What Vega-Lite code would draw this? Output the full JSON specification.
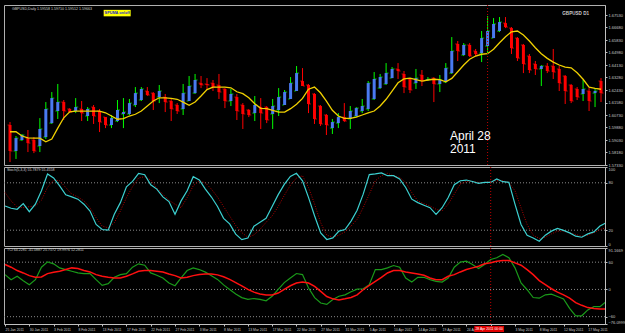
{
  "$schema": "https://vega.github.io/schema/vega-lite/v6.json",
  "background": "#000000",
  "padding": {"left": 3, "top": 4, "right": 0, "bottom": 0},
  "bounds": "flush",
  "spacing": 2,
  "config": {
    "view": {"stroke": "#b0b0b0", "strokeWidth": 1},
    "axis": {"labelColor": "#c8c8c8", "labelFont": "Liberation Sans", "labelFontSize": 4, "domainColor": "#c0c0c0", "tickColor": "#c0c0c0", "grid": false, "tickSize": 2, "labelPadding": 1, "labelOverlap": false, "labelBound": false, "tickCount": 100}
  },
  "datasets": {
    "bars": [
      {"i":0,"d":"2011-01-25","o":1.6005,"h":1.6025,"l":1.5753,"c":1.5828,"ma":1.5959,"k":50.7,"s":67.7,"w1":32.6,"w2":54.8},
      {"i":1,"d":"2011-01-26","o":1.5828,"h":1.5930,"l":1.5774,"c":1.5916,"ma":1.5959,"k":47.8,"s":57.1,"w1":21.5,"w2":48.9},
      {"i":2,"d":"2011-01-27","o":1.5903,"h":1.5944,"l":1.5896,"c":1.5937,"ma":1.5930,"k":46.5,"s":49.4,"w1":28.9,"w2":41.5},
      {"i":3,"d":"2011-01-28","o":1.5916,"h":1.5971,"l":1.5821,"c":1.5882,"ma":1.5918,"k":53.6,"s":48.5,"w1":19.3,"w2":36.3},
      {"i":4,"d":"2011-01-30","o":1.5903,"h":1.5923,"l":1.5814,"c":1.5828,"ma":1.5916,"k":43.4,"s":49.8,"w1":10.4,"w2":30.4},
      {"i":5,"d":"2011-01-31","o":1.5862,"h":1.6052,"l":1.5821,"c":1.5978,"ma":1.5916,"k":52.9,"s":50.7,"w1":21.5,"w2":26.7},
      {"i":6,"d":"2011-02-01","o":1.5923,"h":1.6161,"l":1.5910,"c":1.6114,"ma":1.5891,"k":69.9,"s":58.0,"w1":48.9,"w2":27.4},
      {"i":7,"d":"2011-02-02","o":1.6018,"h":1.6229,"l":1.6012,"c":1.6188,"ma":1.5910,"k":91.2,"s":74.1,"w1":60.7,"w2":34.8},
      {"i":8,"d":"2011-02-03","o":1.6100,"h":1.6284,"l":1.6046,"c":1.6161,"ma":1.5984,"k":86.1,"s":83.5,"w1":56.3,"w2":37.8},
      {"i":9,"d":"2011-02-04","o":1.6161,"h":1.6175,"l":1.6039,"c":1.6100,"ma":1.6054,"k":76.2,"s":82.6,"w1":47.4,"w2":40.0},
      {"i":10,"d":"2011-02-06","o":1.6114,"h":1.6120,"l":1.6086,"c":1.6093,"ma":1.6095,"k":64.8,"s":74.1,"w1":43.7,"w2":43.7},
      {"i":11,"d":"2011-02-07","o":1.6100,"h":1.6188,"l":1.6086,"c":1.6127,"ma":1.6100,"k":62.2,"s":65.6,"w1":40.0,"w2":47.4},
      {"i":12,"d":"2011-02-08","o":1.6114,"h":1.6168,"l":1.6032,"c":1.6086,"ma":1.6100,"k":59.3,"s":62.2,"w1":36.3,"w2":45.9},
      {"i":13,"d":"2011-02-09","o":1.6066,"h":1.6127,"l":1.6032,"c":1.6114,"ma":1.6100,"k":52.9,"s":57.1,"w1":34.8,"w2":41.5},
      {"i":14,"d":"2011-02-10","o":1.6127,"h":1.6141,"l":1.6012,"c":1.6066,"ma":1.6100,"k":44.3,"s":48.5,"w1":34.8,"w2":38.5},
      {"i":15,"d":"2011-02-11","o":1.6100,"h":1.6114,"l":1.5957,"c":1.6025,"ma":1.6100,"k":27.3,"s":35.8,"w1":21.5,"w2":32.6},
      {"i":16,"d":"2011-02-13","o":1.6059,"h":1.6059,"l":1.5984,"c":1.6005,"ma":1.6088,"k":20.9,"s":25.2,"w1":8.9,"w2":28.9},
      {"i":17,"d":"2011-02-14","o":1.6005,"h":1.6073,"l":1.5984,"c":1.6052,"ma":1.6066,"k":20.0,"s":23.0,"w1":12.6,"w2":26.7},
      {"i":18,"d":"2011-02-15","o":1.6032,"h":1.6175,"l":1.6025,"c":1.6107,"ma":1.6044,"k":40.1,"s":29.4,"w1":26.7,"w2":25.2},
      {"i":19,"d":"2011-02-16","o":1.6080,"h":1.6188,"l":1.5984,"c":1.6093,"ma":1.6048,"k":54.9,"s":44.3,"w1":32.6,"w2":25.2},
      {"i":20,"d":"2011-02-17","o":1.6080,"h":1.6182,"l":1.6073,"c":1.6154,"ma":1.6066,"k":75.0,"s":61.3,"w1":34.8,"w2":28.9},
      {"i":21,"d":"2011-02-18","o":1.6141,"h":1.6263,"l":1.6127,"c":1.6222,"ma":1.6078,"k":81.7,"s":75.0,"w1":48.9,"w2":34.1},
      {"i":22,"d":"2011-02-20","o":1.6175,"h":1.6263,"l":1.6168,"c":1.6250,"ma":1.6100,"k":92.0,"s":86.1,"w1":56.3,"w2":40.0},
      {"i":23,"d":"2011-02-21","o":1.6236,"h":1.6263,"l":1.6202,"c":1.6209,"ma":1.6134,"k":90.3,"s":87.7,"w1":53.3,"w2":41.5},
      {"i":24,"d":"2011-02-22","o":1.6222,"h":1.6229,"l":1.6107,"c":1.6168,"ma":1.6168,"k":77.5,"s":83.5,"w1":36.3,"w2":41.5},
      {"i":25,"d":"2011-02-23","o":1.6195,"h":1.6277,"l":1.6154,"c":1.6236,"ma":1.6190,"k":72.0,"s":73.3,"w1":31.1,"w2":40.0},
      {"i":26,"d":"2011-02-24","o":1.6195,"h":1.6216,"l":1.6093,"c":1.6161,"ma":1.6190,"k":62.2,"s":65.6,"w1":25.2,"w2":38.5},
      {"i":27,"d":"2011-02-25","o":1.6168,"h":1.6182,"l":1.6032,"c":1.6114,"ma":1.6186,"k":56.2,"s":58.0,"w1":14.1,"w2":34.1},
      {"i":28,"d":"2011-02-27","o":1.6141,"h":1.6154,"l":1.6080,"c":1.6100,"ma":1.6180,"k":40.1,"s":52.9,"w1":8.1,"w2":30.4},
      {"i":29,"d":"2011-02-28","o":1.6114,"h":1.6284,"l":1.6073,"c":1.6222,"ma":1.6161,"k":57.1,"s":48.5,"w1":25.2,"w2":25.2},
      {"i":30,"d":"2011-03-01","o":1.6168,"h":1.6338,"l":1.6168,"c":1.6270,"ma":1.6139,"k":69.9,"s":61.3,"w1":41.5,"w2":26.7},
      {"i":31,"d":"2011-03-02","o":1.6222,"h":1.6352,"l":1.6216,"c":1.6311,"ma":1.6161,"k":87.7,"s":76.2,"w1":47.4,"w2":30.4},
      {"i":32,"d":"2011-03-03","o":1.6290,"h":1.6338,"l":1.6256,"c":1.6277,"ma":1.6202,"k":83.5,"s":82.6,"w1":43.7,"w2":32.6},
      {"i":33,"d":"2011-03-04","o":1.6284,"h":1.6324,"l":1.6243,"c":1.6277,"ma":1.6246,"k":72,"s":80,"w1":38,"w2":34},
      {"i":34,"d":"2011-03-06","o":1.6290,"h":1.6311,"l":1.6236,"c":1.6263,"ma":1.6263,"k":62,"s":72,"w1":30,"w2":34},
      {"i":35,"d":"2011-03-07","o":1.6277,"h":1.6352,"l":1.6182,"c":1.6229,"ma":1.6263,"k":50,"s":62,"w1":22,"w2":32},
      {"i":36,"d":"2011-03-08","o":1.6250,"h":1.6256,"l":1.6120,"c":1.6168,"ma":1.6263,"k":35,"s":50,"w1":10,"w2":28},
      {"i":37,"d":"2011-03-09","o":1.6168,"h":1.6250,"l":1.6134,"c":1.6216,"ma":1.6258,"k":28,"s":38,"w1":0,"w2":22},
      {"i":38,"d":"2011-03-10","o":1.6195,"h":1.6216,"l":1.6039,"c":1.6100,"ma":1.6231,"k":15,"s":26,"w1":-10,"w2":15},
      {"i":39,"d":"2011-03-11","o":1.6141,"h":1.6154,"l":1.5978,"c":1.6080,"ma":1.6218,"k":8,"s":17,"w1":-18,"w2":8},
      {"i":40,"d":"2011-03-13","o":1.6107,"h":1.6114,"l":1.6059,"c":1.6073,"ma":1.6190,"k":10,"s":11,"w1":-22,"w2":0},
      {"i":41,"d":"2011-03-14","o":1.6086,"h":1.6202,"l":1.6032,"c":1.6141,"ma":1.6150,"k":25,"s":14,"w1":-20,"w2":-6},
      {"i":42,"d":"2011-03-15","o":1.6127,"h":1.6188,"l":1.5978,"c":1.6086,"ma":1.6118,"k":30,"s":21,"w1":-22,"w2":-10},
      {"i":43,"d":"2011-03-16","o":1.6127,"h":1.6134,"l":1.6018,"c":1.6039,"ma":1.6116,"k":35,"s":30,"w1":-25,"w2":-12},
      {"i":44,"d":"2011-03-17","o":1.6080,"h":1.6182,"l":1.5978,"c":1.6134,"ma":1.6105,"k":50,"s":38,"w1":-15,"w2":-12},
      {"i":45,"d":"2011-03-18","o":1.6107,"h":1.6256,"l":1.6066,"c":1.6195,"ma":1.6093,"k":65,"s":50,"w1":0,"w2":-8},
      {"i":46,"d":"2011-03-20","o":1.6141,"h":1.6243,"l":1.6141,"c":1.6229,"ma":1.6093,"k":78,"s":64,"w1":15,"w2":0},
      {"i":47,"d":"2011-03-21","o":1.6182,"h":1.6331,"l":1.6182,"c":1.6290,"ma":1.6116,"k":88,"s":77,"w1":25,"w2":8},
      {"i":48,"d":"2011-03-22","o":1.6236,"h":1.6406,"l":1.6236,"c":1.6358,"ma":1.6146,"k":92,"s":86,"w1":35,"w2":14},
      {"i":49,"d":"2011-03-23","o":1.6304,"h":1.6392,"l":1.6270,"c":1.6270,"ma":1.6186,"k":82.6,"s":89.0,"w1":32.6,"w2":16.3},
      {"i":50,"d":"2011-03-24","o":1.6277,"h":1.6284,"l":1.6086,"c":1.6148,"ma":1.6248,"k":61.3,"s":74.1,"w1":3,"w2":14},
      {"i":51,"d":"2011-03-25","o":1.6216,"h":1.6222,"l":1.6012,"c":1.6046,"ma":1.6263,"k":37.9,"s":52.9,"w1":-18,"w2":6.7},
      {"i":52,"d":"2011-03-27","o":1.6134,"h":1.6141,"l":1.5998,"c":1.6012,"ma":1.6224,"k":16.6,"s":29.4,"w1":-30,"w2":-4.4},
      {"i":53,"d":"2011-03-28","o":1.6073,"h":1.6080,"l":1.5937,"c":1.6005,"ma":1.6168,"k":8.2,"s":13.7,"w1":-33,"w2":-15.6},
      {"i":54,"d":"2011-03-29","o":1.5984,"h":1.6046,"l":1.5944,"c":1.6025,"ma":1.6105,"k":10.2,"s":11.1,"w1":-22,"w2":-20.7},
      {"i":55,"d":"2011-03-30","o":1.6018,"h":1.6086,"l":1.5984,"c":1.6059,"ma":1.6066,"k":18.8,"s":13.7,"w1":-15,"w2":-23},
      {"i":56,"d":"2011-03-31","o":1.6059,"h":1.6154,"l":1.6025,"c":1.6032,"ma":1.6050,"k":20.9,"s":17.9,"w1":-11.9,"w2":-20.7},
      {"i":57,"d":"2011-04-01","o":1.6046,"h":1.6134,"l":1.5978,"c":1.6100,"ma":1.6050,"k":31.5,"s":25.2,"w1":-5,"w2":-17.8},
      {"i":58,"d":"2011-04-03","o":1.6066,"h":1.6127,"l":1.6059,"c":1.6120,"ma":1.6059,"k":45.2,"s":33.7,"w1":0.7,"w2":-11.9},
      {"i":59,"d":"2011-04-04","o":1.6100,"h":1.6182,"l":1.6086,"c":1.6134,"ma":1.6073,"k":65.6,"s":48.5,"w1":1.5,"w2":-0.7},
      {"i":60,"d":"2011-04-05","o":1.6114,"h":1.6304,"l":1.6100,"c":1.6290,"ma":1.6088,"k":90.3,"s":65.6,"w1":10.4,"w2":8.9},
      {"i":61,"d":"2011-04-06","o":1.6182,"h":1.6365,"l":1.6175,"c":1.6318,"ma":1.6100,"k":91.2,"s":82.6,"w1":43.7,"w2":17.8},
      {"i":62,"d":"2011-04-07","o":1.6256,"h":1.6352,"l":1.6250,"c":1.6331,"ma":1.6134,"k":92.5,"s":89.0,"w1":43.7,"w2":26.7},
      {"i":63,"d":"2011-04-08","o":1.6284,"h":1.6426,"l":1.6277,"c":1.6358,"ma":1.6180,"k":89.0,"s":92.0,"w1":47.4,"w2":36.3},
      {"i":64,"d":"2011-04-10","o":1.6324,"h":1.6399,"l":1.6324,"c":1.6386,"ma":1.6236,"k":89.0,"s":89.0,"w1":52.6,"w2":41.5},
      {"i":65,"d":"2011-04-11","o":1.6386,"h":1.6426,"l":1.6318,"c":1.6372,"ma":1.6292,"k":84.8,"s":86.8,"w1":48.9,"w2":41.5},
      {"i":66,"d":"2011-04-12","o":1.6352,"h":1.6372,"l":1.6222,"c":1.6263,"ma":1.6318,"k":74.1,"s":80.5,"w1":25.2,"w2":38.5},
      {"i":67,"d":"2011-04-13","o":1.6318,"h":1.6324,"l":1.6222,"c":1.6243,"ma":1.6324,"k":59.3,"s":67.7,"w1":16.3,"w2":36.3},
      {"i":68,"d":"2011-04-14","o":1.6290,"h":1.6386,"l":1.6250,"c":1.6324,"ma":1.6313,"k":54.9,"s":57.1,"w1":26.7,"w2":34.1},
      {"i":69,"d":"2011-04-15","o":1.6345,"h":1.6379,"l":1.6270,"c":1.6304,"ma":1.6304,"k":51.6,"s":53.6,"w1":26.7,"w2":31.1},
      {"i":70,"d":"2011-04-17","o":1.6311,"h":1.6331,"l":1.6304,"c":1.6318,"ma":1.6311,"k":48.5,"s":50.7,"w1":21.5,"w2":25.2},
      {"i":71,"d":"2011-04-18","o":1.6324,"h":1.6331,"l":1.6161,"c":1.6284,"ma":1.6316,"k":40.1,"s":46.5,"w1":17.8,"w2":21.5},
      {"i":72,"d":"2011-04-19","o":1.6284,"h":1.6345,"l":1.6229,"c":1.6311,"ma":1.6313,"k":48.5,"s":44.3,"w1":16.3,"w2":21.5},
      {"i":73,"d":"2011-04-20","o":1.6297,"h":1.6426,"l":1.6290,"c":1.6392,"ma":1.6299,"k":61.3,"s":52.9,"w1":25.2,"w2":28.9},
      {"i":74,"d":"2011-04-21","o":1.6358,"h":1.6603,"l":1.6352,"c":1.6508,"ma":1.6322,"k":77.5,"s":65.6,"w1":48.9,"w2":32.6},
      {"i":75,"d":"2011-04-22","o":1.6556,"h":1.6576,"l":1.6440,"c":1.6508,"ma":1.6367,"k":82.6,"s":78.4,"w1":60,"w2":38.5},
      {"i":76,"d":"2011-04-24","o":1.6481,"h":1.6562,"l":1.6474,"c":1.6549,"ma":1.6413,"k":83.5,"s":81.7,"w1":62.2,"w2":43.7},
      {"i":77,"d":"2011-04-25","o":1.6549,"h":1.6562,"l":1.6467,"c":1.6474,"ma":1.6452,"k":81.7,"s":81.7,"w1":54.8,"w2":47.4},
      {"i":78,"d":"2011-04-26","o":1.6508,"h":1.6522,"l":1.6474,"c":1.6488,"ma":1.6474,"k":79.2,"s":80.5,"w1":45.9,"w2":51.1},
      {"i":79,"d":"2011-04-27","o":1.6494,"h":1.6644,"l":1.6433,"c":1.6596,"ma":1.6486,"k":80.5,"s":80.5,"w1":54.8,"w2":56.3},
      {"i":80,"d":"2011-04-28","o":1.6542,"h":1.6746,"l":1.6494,"c":1.6644,"ma":1.6490,"k":80.5,"s":81.7,"w1":65.9,"w2":58.5},
      {"i":81,"d":"2011-04-29","o":1.6596,"h":1.6732,"l":1.6596,"c":1.6692,"ma":1.6520,"k":84.8,"s":82.6,"w1":69.6,"w2":62.2},
      {"i":82,"d":"2011-05-01","o":1.6644,"h":1.6739,"l":1.6637,"c":1.6705,"ma":1.6564,"k":81.4,"s":82.6,"w1":77,"w2":63.7},
      {"i":83,"d":"2011-05-02","o":1.6698,"h":1.6739,"l":1.6664,"c":1.6671,"ma":1.6605,"k":80.5,"s":80.5,"w1":69.6,"w2":63.7},
      {"i":84,"d":"2011-05-03","o":1.6664,"h":1.6671,"l":1.6488,"c":1.6528,"ma":1.6639,"k":52.9,"s":69.9,"w1":47.4,"w2":58.5},
      {"i":85,"d":"2011-05-04","o":1.6596,"h":1.6603,"l":1.6440,"c":1.6460,"ma":1.6644,"k":27.3,"s":48.5,"w1":14.1,"w2":53.3},
      {"i":86,"d":"2011-05-05","o":1.6549,"h":1.6556,"l":1.6358,"c":1.6420,"ma":1.6617,"k":13.7,"s":27.3,"w1":-0.7,"w2":43.7},
      {"i":87,"d":"2011-05-06","o":1.6474,"h":1.6488,"l":1.6358,"c":1.6379,"ma":1.6576,"k":10.2,"s":13.7,"w1":-17.8,"w2":32.6},
      {"i":88,"d":"2011-05-08","o":1.6420,"h":1.6440,"l":1.6345,"c":1.6386,"ma":1.6530,"k":6.0,"s":9.5,"w1":-19.3,"w2":19.3},
      {"i":89,"d":"2011-05-09","o":1.6386,"h":1.6413,"l":1.6270,"c":1.6406,"ma":1.6490,"k":13.7,"s":11.1,"w1":-11.9,"w2":10.4},
      {"i":90,"d":"2011-05-10","o":1.6406,"h":1.6426,"l":1.6358,"c":1.6372,"ma":1.6458,"k":18.8,"s":15.3,"w1":-10.4,"w2":1.5},
      {"i":91,"d":"2011-05-11","o":1.6406,"h":1.6522,"l":1.6318,"c":1.6365,"ma":1.6433,"k":22.2,"s":18.8,"w1":-15.6,"w2":-6},
      {"i":92,"d":"2011-05-12","o":1.6386,"h":1.6406,"l":1.6236,"c":1.6290,"ma":1.6413,"k":19.7,"s":18.8,"w1":-21,"w2":-11.9},
      {"i":93,"d":"2011-05-13","o":1.6338,"h":1.6345,"l":1.6148,"c":1.6236,"ma":1.6399,"k":16.6,"s":16.6,"w1":-41.5,"w2":-19},
      {"i":94,"d":"2011-05-15","o":1.6277,"h":1.6284,"l":1.6154,"c":1.6168,"ma":1.6394,"k":12.4,"s":14.6,"w1":-58,"w2":-29},
      {"i":95,"d":"2011-05-16","o":1.6250,"h":1.6263,"l":1.6175,"c":1.6195,"ma":1.6360,"k":11.1,"s":12.4,"w1":-58,"w2":-35},
      {"i":96,"d":"2011-05-17","o":1.6216,"h":1.6311,"l":1.6168,"c":1.6250,"ma":1.6316,"k":15.3,"s":13.7,"w1":-45,"w2":-40},
      {"i":97,"d":"2011-05-18","o":1.6236,"h":1.6256,"l":1.6100,"c":1.6168,"ma":1.6263,"k":17.9,"s":16.6,"w1":-38,"w2":-42},
      {"i":98,"d":"2011-05-19","o":1.6222,"h":1.6256,"l":1.6127,"c":1.6236,"ma":1.6254,"k":25.2,"s":20.9,"w1":-37.8,"w2":-43},
      {"i":99,"d":"2011-05-20","o":1.6304,"h":1.6324,"l":1.6161,"c":1.6222,"ma":1.6248,"k":29.4,"s":23.0,"w1":-26.7,"w2":-43}
    ],
    "one": [{}]
  },
  "vconcat": [
    {
      "width": 601,
      "height": 160,
      "layer": [
        {
          "data": {"name": "bars"},
          "mark": {"type": "rule", "clip": true, "strokeWidth": 1},
          "encoding": {
            "x": {"field": "i", "type": "quantitative", "scale": {"domain": [-0.17, 98.83], "nice": false, "zero": false}, "axis": null},
            "y": {"field": "l", "type": "quantitative", "scale": {"domain": [1.5733, 1.6821], "nice": false, "zero": false},
              "axis": {"orient": "right", "title": null, "labelOverlap": false, "tickCount": 100, "values": [1.6753, 1.6668, 1.6583, 1.6498, 1.6413, 1.6328, 1.6243, 1.6158, 1.6073, 1.5988, 1.5903, 1.5818, 1.5733], "format": ".5f"}},
            "y2": {"field": "h"},
            "color": {"condition": {"test": "datum.c >= datum.o", "value": "#00ff00"}, "value": "#ff0000"}
          }
        },
        {
          "data": {"name": "bars"},
          "mark": {"type": "tick", "orient": "horizontal", "clip": true, "size": 2, "thickness": 1, "xOffset": -1.5},
          "encoding": {
            "x": {"field": "i", "type": "quantitative"},
            "y": {"field": "o", "type": "quantitative"},
            "color": {"condition": {"test": "datum.c >= datum.o", "value": "#00ff00"}, "value": "#ff0000"}
          }
        },
        {
          "data": {"name": "bars"},
          "mark": {"type": "tick", "orient": "horizontal", "clip": true, "size": 2, "thickness": 1, "xOffset": 1.5},
          "encoding": {
            "x": {"field": "i", "type": "quantitative"},
            "y": {"field": "c", "type": "quantitative"},
            "color": {"condition": {"test": "datum.c >= datum.o", "value": "#00ff00"}, "value": "#ff0000"}
          }
        },
        {
          "data": {"name": "bars"},
          "mark": {"type": "bar", "clip": true, "size": 3},
          "encoding": {
            "x": {"field": "i", "type": "quantitative"},
            "y": {"field": "o", "type": "quantitative"},
            "y2": {"field": "c"},
            "color": {"condition": {"test": "datum.c >= datum.o", "value": "#4a7af0"}, "value": "#ff0000"}
          }
        },
        {
          "data": {"name": "bars"},
          "mark": {"type": "line", "clip": true, "color": "#f0d000", "strokeWidth": 1.3},
          "encoding": {"x": {"field": "i", "type": "quantitative"}, "y": {"field": "ma", "type": "quantitative"}}
        },
        {
          "data": {"name": "one"},
          "mark": {"type": "rule", "color": "#c00000", "strokeDash": [1, 2], "strokeWidth": 1},
          "encoding": {"x": {"datum": 80}}
        },
        {
          "data": {"name": "one"},
          "mark": {"type": "text", "align": "left", "baseline": "middle", "color": "#d0d0d0", "font": "Liberation Sans", "fontSize": 3.6},
          "encoding": {"x": {"datum": 0.32}, "y": {"datum": 1.6794}, "text": {"value": "GBPUSD,Daily  1.59558 1.59710 1.59512 1.59663"}}
        },
        {
          "data": {"name": "one"},
          "mark": {"type": "point", "shape": "M-1,-0.24H1V0.24H-1Z", "filled": true, "opacity": 1, "fill": "#ffff00", "stroke": null, "size": 729},
          "encoding": {"x": {"datum": 17.95}, "y": {"datum": 1.6766}}
        },
        {
          "data": {"name": "one"},
          "mark": {"type": "text", "align": "center", "baseline": "middle", "color": "#2020d0", "font": "Liberation Sans", "fontSize": 3.8, "fontWeight": "bold"},
          "encoding": {"x": {"datum": 17.95}, "y": {"datum": 1.6766}, "text": {"value": "SPUMA on/off"}}
        },
        {
          "data": {"name": "one"},
          "mark": {"type": "text", "align": "right", "baseline": "middle", "color": "#c8c8c8", "font": "Liberation Sans", "fontSize": 4.6, "fontWeight": "bold"},
          "encoding": {"x": {"datum": 97.0}, "y": {"datum": 1.6760}, "text": {"value": "GBPUSD D1"}}
        },
        {
          "data": {"name": "one"},
          "mark": {"type": "text", "align": "left", "baseline": "middle", "color": "#ffffff", "font": "Liberation Sans", "fontSize": 12, "lineBreak": "\n", "lineHeight": 13},
          "encoding": {"x": {"datum": 73.7}, "y": {"datum": 1.5930}, "text": {"value": "April 28\n2011"}}
        }
      ]
    },
    {
      "width": 601,
      "height": 79,
      "layer": [
        {
          "data": {"name": "one"},
          "mark": {"type": "rule", "color": "#8a8a8a", "strokeDash": [1, 2]},
          "encoding": {"y": {"datum": 80, "type": "quantitative", "scale": {"domain": [0, 100], "nice": false}, "axis": {"orient": "right", "title": null, "labelOverlap": false, "tickCount": 100, "labelFlush": true, "values": [100, 80, 20, 0]}}}
        },
        {
          "data": {"name": "one"},
          "mark": {"type": "rule", "color": "#8a8a8a", "strokeDash": [1, 2]},
          "encoding": {"y": {"datum": 20}}
        },
        {
          "data": {"name": "bars"},
          "mark": {"type": "line", "clip": true, "color": "#b00000", "strokeWidth": 1, "strokeDash": [1, 1.5]},
          "encoding": {
            "x": {"field": "i", "type": "quantitative", "scale": {"domain": [-0.17, 98.83], "nice": false, "zero": false}, "axis": null},
            "y": {"field": "s", "type": "quantitative"}
          }
        },
        {
          "data": {"name": "bars"},
          "mark": {"type": "line", "clip": true, "color": "#3cd0d0", "strokeWidth": 1.2},
          "encoding": {"x": {"field": "i", "type": "quantitative"}, "y": {"field": "k", "type": "quantitative"}}
        },
        {
          "data": {"name": "one"},
          "mark": {"type": "rule", "color": "#c00000", "strokeDash": [1, 2], "strokeWidth": 1},
          "encoding": {"x": {"datum": 80}}
        },
        {
          "data": {"name": "one"},
          "mark": {"type": "text", "align": "left", "baseline": "middle", "color": "#d0d0d0", "font": "Liberation Sans", "fontSize": 3.6},
          "encoding": {"x": {"datum": 0.32}, "y": {"datum": 95.6}, "text": {"value": "Stoch(5,3,3) 55.7879 55.4558"}}
        }
      ]
    },
    {
      "width": 601,
      "height": 76,
      "layer": [
        {
          "data": {"name": "one"},
          "mark": {"type": "rule", "color": "#8a8a8a", "strokeDash": [1, 2]},
          "encoding": {"y": {"datum": 60, "type": "quantitative", "scale": {"domain": [-76.0999, 91.1669], "nice": false, "zero": false}, "axis": {"orient": "right", "title": null, "labelOverlap": false, "tickCount": 100, "labelFlush": true, "values": [91.1669, 60, 0, -60, -76.0999], "format": ".4~f"}}}
        },
        {
          "data": {"name": "one"},
          "mark": {"type": "rule", "color": "#8a8a8a", "strokeDash": [1, 2]},
          "encoding": {"y": {"datum": 0}}
        },
        {
          "data": {"name": "one"},
          "mark": {"type": "rule", "color": "#8a8a8a", "strokeDash": [1, 2]},
          "encoding": {"y": {"datum": -60}}
        },
        {
          "data": {"name": "bars"},
          "mark": {"type": "line", "clip": true, "color": "#1a9a1a", "strokeWidth": 1.2},
          "encoding": {
            "x": {"field": "i", "type": "quantitative", "scale": {"domain": [-0.17, 98.83], "nice": false, "zero": false},
              "axis": {"title": null, "tickCount": 100, "values": [0,4,8,12,16,20,24,28,32,36,40,44,48,52,56,60,64,68,72,76,80,84,88,92,96],
                "labelExpr": "datum.value == 80 ? '' : ['25 Jan 2011','30 Jan 2011','3 Feb 2011','8 Feb 2011','13 Feb 2011','17 Feb 2011','22 Feb 2011','27 Feb 2011','3 Mar 2011','8 Mar 2011','13 Mar 2011','17 Mar 2011','22 Mar 2011','27 Mar 2011','31 Mar 2011','5 Apr 2011','10 Apr 2011','14 Apr 2011','19 Apr 2011','24 Apr 2011','28 Apr 2011','3 May 2011','8 May 2011','12 May 2011','17 May 2011'][round(datum.value/4)]",
                "labelAlign": "left", "labelBaseline": "top", "labelFontSize": 3.4, "labelPadding": 1.5, "labelFlush": false, "labelOverlap": false, "tickSize": 2}},
            "y": {"field": "w1", "type": "quantitative"}
          }
        },
        {
          "data": {"name": "bars"},
          "mark": {"type": "line", "clip": true, "color": "#ff1010", "strokeWidth": 1.5},
          "encoding": {"x": {"field": "i", "type": "quantitative"}, "y": {"field": "w2", "type": "quantitative"}}
        },
        {
          "data": {"name": "one"},
          "mark": {"type": "rule", "color": "#c00000", "strokeDash": [1, 2], "strokeWidth": 1},
          "encoding": {"x": {"datum": 80}}
        },
        {
          "data": {"name": "one"},
          "mark": {"type": "rect", "color": "#e00000", "clip": false},
          "encoding": {"x": {"datum": 77.3}, "x2": {"datum": 82.2}, "y": {"datum": -80.5}, "y2": {"datum": -93.7}}
        },
        {
          "data": {"name": "one"},
          "mark": {"type": "text", "align": "center", "baseline": "middle", "color": "#ffffff", "font": "Liberation Sans", "fontSize": 3.4},
          "encoding": {"x": {"datum": 79.75}, "y": {"datum": -87.1}, "text": {"value": "28 Apr 2011 00:00"}}
        },
        {
          "data": {"name": "one"},
          "mark": {"type": "text", "align": "left", "baseline": "middle", "color": "#d0d0d0", "font": "Liberation Sans", "fontSize": 3.6},
          "encoding": {"x": {"datum": 0.32}, "y": {"datum": 85.7}, "text": {"value": "TCI 64.2281 -41.0887 25.7572 19.9976 12.2811"}}
        }
      ]
    }
  ]
}
